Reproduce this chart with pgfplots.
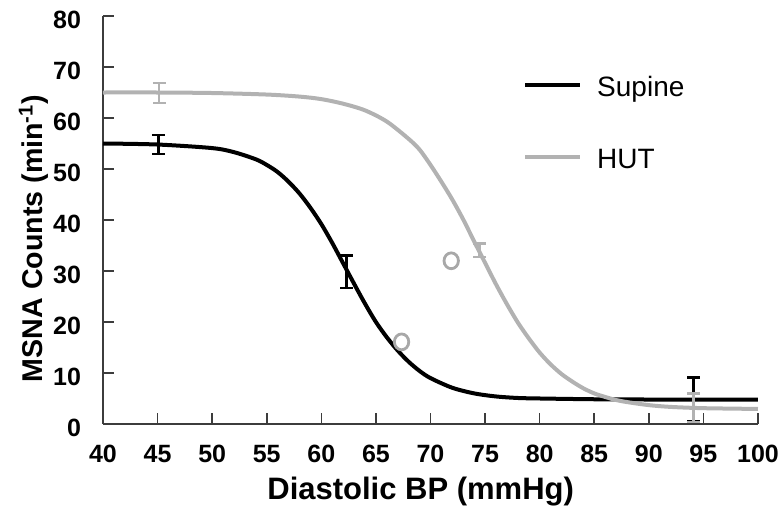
\documentclass[border=0pt]{standalone}
\usepackage{pgfplots}
\pgfplotsset{compat=1.18}
\usepackage{fontspec}
\setmainfont{Liberation Sans}
\definecolor{hutgray}{RGB}{178,178,178}
\definecolor{circgray}{RGB}{168,168,168}
\definecolor{axisgray}{RGB}{60,60,60}
\begin{document}
\begin{tikzpicture}
\begin{axis}[
  at={(0,0)}, anchor=south west,
  scale only axis, width=327.5pt, height=204pt,
  xmin=40, xmax=100, ymin=0, ymax=80,
  axis x line*=bottom, axis y line*=left,
  axis line style={axisgray, line width=0.8pt},
  xtick={40,45,...,100}, ytick={0,10,...,80},
  tick style={axisgray, line width=0.8pt},
  major tick length=5.5pt,
  tick align=inside,
  ticklabel style={font=\fontsize{12.5}{14}\selectfont\bfseries},
  /pgf/number format/assume math mode=true,
  xticklabel style={yshift=-7pt},
  yticklabel style={xshift=-7.5pt, yshift=-2pt},
  xlabel={Diastolic BP (mmHg)},
  ylabel={MSNA Counts (min\textsuperscript{-1})},
  xlabel style={font=\fontsize{15.5}{18}\selectfont\bfseries,
    at={([yshift=-38pt]axis description cs:0.485,0)}, anchor=base},
  ylabel style={font=\fontsize{14.3}{17}\selectfont\bfseries,
    at={([xshift=-30pt]axis description cs:0,0.455)}, anchor=base},
  clip=false,
  legend style={at={(axis cs:78.46,59.4)}, anchor=west, draw=none, fill=none,
    inner sep=0pt, font=\fontsize{14}{16}\selectfont, row sep=25pt, column sep=7.5pt,
    nodes={inner sep=0pt, text height=11pt, text depth=0pt}},
  legend cell align=left,
  legend image code/.code={\draw[#1, line width=2pt] (0pt,0pt) -- (27.5pt,0pt);},
]
% Supine fitted curve
\addplot[black, line width=2pt, smooth] coordinates {
(40,55.0) (45,54.8) (50,54.1) (52,53.3) (54,51.9) (55,50.8) (56,49.4) (57,47.5)
(58,45.2) (59,42.4) (60,39.2) (61,35.5) (62,31.5) (63,27.5) (64,23.6) (65,20.0)
(66,17.0) (67,14.4) (68,12.2) (69,10.4) (70,9.0) (72,7.1) (74,6.0) (76,5.4)
(78,5.1) (80,5.0) (85,4.85) (90,4.8) (95,4.8) (100,4.8)};
\addlegendentry{Supine}
% HUT fitted curve
\addplot[hutgray, line width=2pt, smooth] coordinates {
(40,65.0) (45,65.0) (50,64.9) (55,64.6) (58,64.2) (60,63.7) (62,62.8) (64,61.5)
(66,59.3) (68,55.9) (69,53.8) (70,50.8) (71,47.5) (72,44.0) (73,40.1) (74,35.8)
(75,31.6) (76,27.4) (77,23.5) (78,19.9) (79,16.8) (80,14.0) (81,11.7) (82,9.8)
(83,8.3) (84,7.0) (85,6.0) (86,5.3) (87,4.7) (88,4.3) (90,3.7) (92,3.35)
(95,3.1) (100,2.95)};
\addlegendentry{HUT}
% Supine error bars
\addplot[forget plot, draw=none, mark=none,
  error bars/.cd, y dir=both, y explicit,
  error bar style={line width=1.2pt, draw=black},
  error mark options={draw=black, line width=1.2pt, mark size=3.2pt, rotate=90}]
coordinates {(45.07,54.8) +- (0,1.9) (62.3,29.85) +- (0,3.15) (94.1,4.8) +- (0,4.35)};
% HUT error bars
\addplot[forget plot, draw=none, mark=none,
  error bars/.cd, y dir=both, y explicit,
  error bar style={line width=1.2pt, draw=hutgray},
  error mark options={draw=hutgray, line width=1.2pt, mark size=3.2pt, rotate=90}]
coordinates {(45.15,64.9) +- (0,2.0) (74.5,34.1) +- (0,1.3) (94.1,3.2) +- (0,2.8)};
% open circles
\addplot[forget plot, only marks, mark=o, circgray, mark size=3.6pt,
  mark options={line width=1.4pt, yscale=1.1}]
coordinates {(67.35,16.1) (71.9,32.0)};
\end{axis}
\pgfresetboundingbox
\path[use as bounding box] (-51.5pt,-47pt) rectangle (340.5pt,212pt);
\end{tikzpicture}
\end{document}
